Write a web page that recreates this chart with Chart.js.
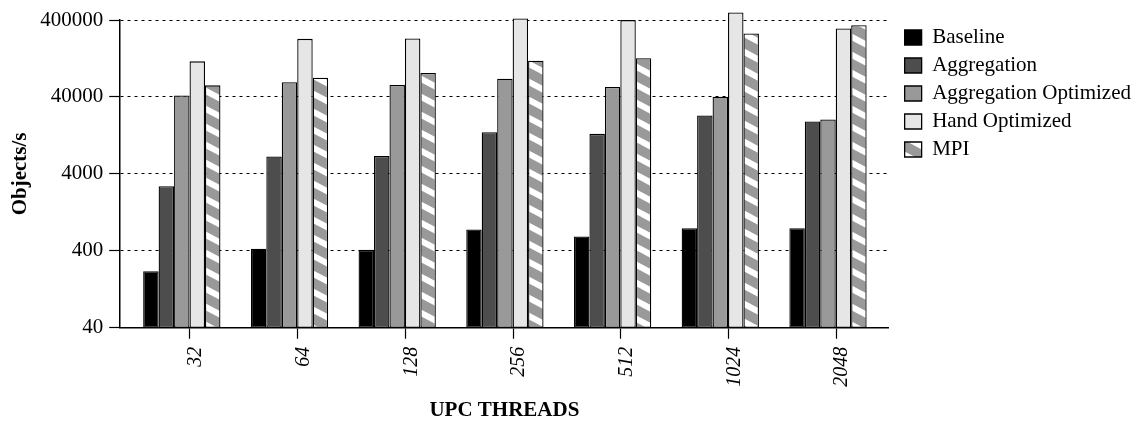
<!DOCTYPE html>
<html>
<head>
<meta charset="utf-8">
<script src="https://cdn.jsdelivr.net/npm/chart.js@4/dist/chart.umd.min.js"></script>
<style>
  html, body { margin: 0; padding: 0; background: #fff; }
  #wrap { width: 1143px; height: 423px; }
</style>
</head>
<body>
<div id="wrap"><canvas id="chart" width="1143" height="423"></canvas></div>
<script>
const threads = ["32", "64", "128", "256", "512", "1024", "2048"];
const yTicks = [40, 400, 4000, 40000, 400000];

const baseline = [217, 425, 412, 758, 614, 789, 789];
const aggregation = [2760, 6720, 6850, 13900, 13250, 23000, 19200];
const aggregationOpt = [41900, 62000, 57200, 69000, 53800, 40300, 20400];
const handOpt = [116000, 227600, 229600, 419000, 399000, 501000, 310000];
const mpi = [56600, 71200, 82000, 118600, 127400, 267000, 343000];

const serif = "'Liberation Serif', 'DejaVu Serif', serif";

// grey with white diagonal stripes, like the gnuplot fill pattern
function hatch() {
  const c = document.createElement("canvas");
  c.width = 34;
  c.height = 18;
  const g = c.getContext("2d");
  g.fillStyle = "#999999";
  g.fillRect(0, 0, 34, 18);
  g.strokeStyle = "#ffffff";
  g.lineWidth = 6;
  for (const dy of [-18, 0, 18]) {
    g.beginPath();
    g.moveTo(-34, -18 + dy);
    g.lineTo(68, 36 + dy);
    g.stroke();
  }
  return g.createPattern(c, "repeat");
}

function series(label, values, fill) {
  return {
    label,
    data: values.map((v, i) => ({ x: i, y: v })),
    backgroundColor: fill,
    borderColor: "#000000",
    borderWidth: 1.3,
    borderSkipped: false,
    clip: false
  };
}

const ctx = document.getElementById("chart");
const chart = new Chart(ctx, {
  type: "bar",
  data: {
    datasets: [
      series("Baseline", baseline, "#000000"),
      series("Aggregation", aggregation, "#4d4d4d"),
      series("Aggregation Optimized", aggregationOpt, "#999999"),
      series("Hand Optimized", handOpt, "#e6e6e6"),
      series("MPI", mpi, hatch())
    ]
  },
  options: {
    responsive: false,
    animation: false,
    categoryPercentage: 0.7176,
    barPercentage: 1,
    layout: { padding: { left: 8, right: 2, top: 20, bottom: 0 } },
    plugins: {
      tooltip: { enabled: false },
      legend: {
        position: "right",
        align: "start",
        labels: {
          color: "#000",
          font: { family: serif, size: 21 },
          boxWidth: 17,
          boxHeight: 15,
          padding: 7
        }
      }
    },
    scales: {
      x: {
        type: "linear",
        offset: false,
        min: -0.572,
        max: 6.563,
        afterBuildTicks: (scale) => {
          scale.ticks = threads.map((t, i) => ({ value: i + 0.076 }));
        },
        grid: {
          offset: false,
          drawOnChartArea: false,
          color: "#000",
          tickLength: 11,
          tickWidth: 1.2
        },
        border: { color: "#000", width: 1.5 },
        ticks: {
          color: "#000",
          font: { family: serif, size: 20, style: "italic" },
          minRotation: 90,
          maxRotation: 90,
          padding: 8,
          labelOffset: 6,
          callback: (v, i) => threads[i]
        },
        title: {
          display: true,
          text: "UPC THREADS",
          color: "#000",
          font: { family: serif, size: 21, weight: "bold" },
          padding: { top: 3, bottom: 0 }
        }
      },
      y: {
        type: "logarithmic",
        min: 40,
        max: 400000,
        afterBuildTicks: (scale) => {
          scale.ticks = yTicks.map((v) => ({ value: v }));
        },
        grid: {
          color: "#000",
          lineWidth: 1,
          tickLength: 11,
          tickWidth: 1.2,
          tickBorderDash: []
        },
        border: { color: "#000", width: 1.5, dash: [3, 4] },
        ticks: {
          color: "#000",
          font: { family: serif, size: 21 },
          padding: 6,
          callback: (v) => String(v)
        },
        title: {
          display: true,
          text: "Objects/s",
          color: "#000",
          font: { family: serif, size: 21, weight: "bold" },
          padding: { top: 0, bottom: 1 }
        }
      },
      // hidden right-hand strip that keeps the plot clear of the legend
      gap: {
        type: "linear",
        position: "right",
        display: false,
        afterFit: (scale) => {
          scale.width = 9;
        }
      }
    }
  }
});
</script>
</body>
</html>
